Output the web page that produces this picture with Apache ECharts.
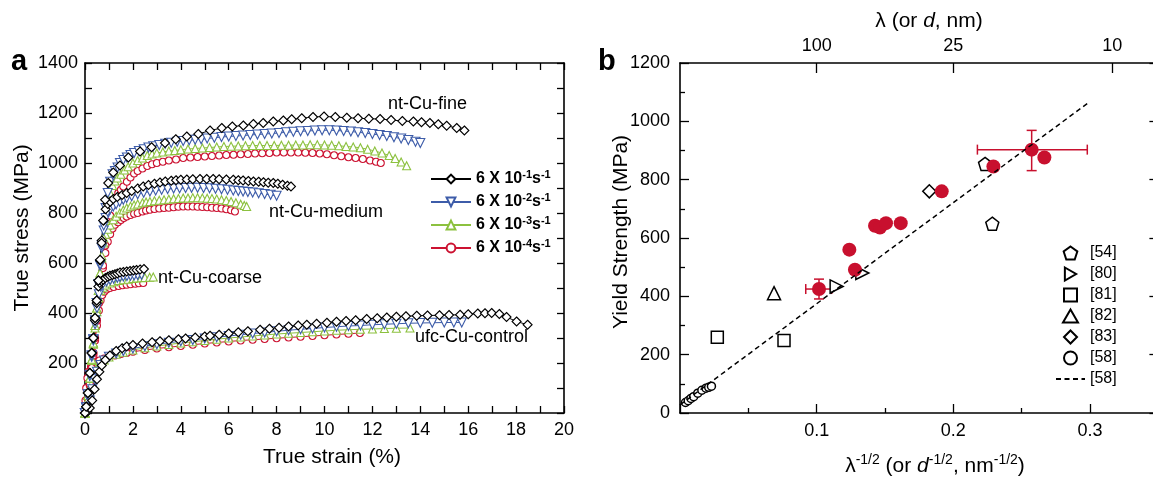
<!DOCTYPE html>
<html>
<head>
<meta charset="utf-8">
<script src="https://cdn.jsdelivr.net/npm/echarts@6/dist/echarts.min.js"></script>
<style>
  html, body { margin: 0; padding: 0; background: #fff; }
  #chart { width: 1153px; height: 481px; }
</style>
</head>
<body>
<div id="chart"></div>
<script>
// ---------- Panel a: true stress (MPa) vs true strain (%) ----------
const rateNames = ['6 X 10-1s-1', '6 X 10-2s-1', '6 X 10-3s-1', '6 X 10-4s-1'];

// nt-Cu-fine
const fine1 = [[0,0],[0.05,25],[0.12,80],[0.2,160],[0.28,240],[0.35,300],[0.42,380],[0.49,450],[0.56,530],[0.63,613],[0.69,680],[0.76,770],[0.84,853],[0.97,920],[1.18,962],[1.46,990],[1.81,1022],[2.3,1046],[2.78,1063],[3.34,1080],[3.79,1095],[4.25,1106],[4.73,1116],[5.22,1130],[5.71,1140],[6.15,1146],[6.61,1150],[7.03,1156],[7.44,1160],[7.86,1166],[8.28,1170],[8.63,1175],[9.05,1179],[9.52,1184],[9.98,1186],[10.45,1184],[10.93,1181],[11.4,1179],[11.85,1177],[12.32,1176],[12.78,1172],[13.25,1168],[13.71,1166],[14.05,1163],[14.4,1160],[14.75,1155],[15.1,1149],[15.52,1140],[15.84,1130]];
const fine2 = [[0,0],[0.05,22],[0.12,75],[0.2,150],[0.28,230],[0.35,295],[0.42,370],[0.49,440],[0.56,515],[0.63,595],[0.7,670],[0.78,750],[0.86,820],[0.95,880],[1.05,925],[1.15,955],[1.25,968],[1.36,982],[1.46,1000],[1.6,1012],[1.75,1022],[1.9,1032],[2.05,1040],[2.25,1048],[2.45,1055],[2.65,1062],[2.85,1067],[3.1,1072],[3.35,1077],[3.6,1081],[3.85,1085],[4.1,1088],[4.35,1091],[4.6,1093],[4.85,1095],[5.1,1098],[5.4,1101],[5.7,1104],[6.0,1106],[6.3,1108],[6.6,1110],[6.9,1112],[7.2,1114],[7.5,1116],[7.8,1118],[8.1,1120],[8.4,1123],[8.7,1125],[9.0,1127],[9.3,1128],[9.6,1130],[9.9,1131],[10.2,1131],[10.5,1130],[10.8,1128],[11.1,1126],[11.4,1123],[11.7,1120],[12.0,1116],[12.3,1112],[12.6,1108],[12.9,1103],[13.2,1098],[13.5,1092],[13.8,1085],[14.0,1080]];
const fine3 = [[0,0],[0.05,20],[0.12,70],[0.2,140],[0.28,215],[0.35,280],[0.42,350],[0.49,420],[0.56,490],[0.63,560],[0.7,630],[0.78,700],[0.86,770],[0.95,830],[1.05,880],[1.15,910],[1.25,928],[1.35,940],[1.5,955],[1.65,972],[1.8,985],[2.0,1000],[2.2,1010],[2.4,1020],[2.6,1030],[2.8,1036],[3.0,1040],[3.25,1044],[3.5,1048],[3.75,1050],[4.0,1053],[4.3,1056],[4.6,1058],[4.9,1060],[5.2,1062],[5.5,1064],[5.8,1066],[6.1,1067],[6.4,1068],[6.7,1069],[7.0,1070],[7.3,1070],[7.6,1070],[7.9,1070],[8.2,1071],[8.5,1071],[8.8,1072],[9.1,1072],[9.4,1073],[9.7,1073],[10.0,1072],[10.3,1071],[10.6,1069],[10.9,1066],[11.2,1064],[11.5,1061],[11.8,1055],[12.1,1048],[12.4,1040],[12.7,1030],[12.95,1018],[13.2,1004],[13.43,989]];
const fine4 = [[0,0],[0.05,15],[0.12,55],[0.2,115],[0.28,180],[0.35,240],[0.42,300],[0.5,370],[0.58,440],[0.66,510],[0.75,590],[0.85,670],[0.95,740],[1.05,790],[1.15,830],[1.27,860],[1.39,880],[1.5,893],[1.6,906],[1.75,925],[1.9,942],[2.05,958],[2.2,968],[2.4,978],[2.6,988],[2.8,995],[3.0,1000],[3.25,1005],[3.5,1010],[3.8,1014],[4.1,1020],[4.4,1022],[4.7,1024],[5.0,1026],[5.3,1028],[5.6,1030],[5.9,1032],[6.2,1033],[6.5,1035],[6.8,1036],[7.1,1038],[7.4,1039],[7.7,1040],[8.0,1042],[8.3,1042],[8.6,1042],[8.9,1042],[9.2,1041],[9.5,1040],[9.8,1038],[10.1,1035],[10.4,1031],[10.7,1027],[11.0,1023],[11.3,1020],[11.6,1016],[11.9,1010],[12.15,1005],[12.35,1000]];

// nt-Cu-medium
const medium1 = [[0,0],[0.05,25],[0.12,80],[0.2,160],[0.28,240],[0.35,300],[0.42,380],[0.49,450],[0.56,530],[0.63,610],[0.7,690],[0.78,770],[0.86,815],[0.95,836],[1.05,845],[1.18,856],[1.35,864],[1.55,872],[1.74,880],[1.95,888],[2.2,898],[2.43,906],[2.65,912],[2.9,917],[3.13,922],[3.35,926],[3.6,929],[3.8,931],[4.0,933],[4.25,934],[4.5,935],[4.8,936],[5.08,936],[5.35,936],[5.6,935],[5.9,934],[6.19,933],[6.4,931],[6.6,930],[6.82,928],[7.03,926],[7.25,925],[7.45,923],[7.65,921],[7.86,920],[8.05,917],[8.25,913],[8.45,909],[8.6,906]];
const medium2 = [[0,0],[0.05,22],[0.12,75],[0.2,150],[0.28,230],[0.35,295],[0.42,370],[0.49,440],[0.56,515],[0.63,590],[0.7,660],[0.78,730],[0.86,780],[0.95,805],[1.05,815],[1.18,826],[1.3,835],[1.45,845],[1.6,853],[1.74,860],[1.95,867],[2.2,875],[2.45,881],[2.71,886],[2.95,890],[3.2,893],[3.45,896],[3.7,898],[3.95,899],[4.2,900],[4.45,901],[4.7,901],[4.95,900],[5.2,899],[5.45,897],[5.7,895],[5.95,893],[6.19,890],[6.4,888],[6.6,886],[6.8,884],[7.0,882],[7.25,879],[7.5,876],[7.75,873],[8.0,869]];
const medium3 = [[0,0],[0.05,20],[0.12,70],[0.2,140],[0.28,215],[0.35,280],[0.42,350],[0.49,420],[0.56,490],[0.63,560],[0.7,620],[0.78,680],[0.86,715],[0.95,735],[1.05,752],[1.18,773],[1.3,787],[1.45,800],[1.6,812],[1.74,820],[1.9,827],[2.05,832],[2.2,836],[2.4,841],[2.55,844],[2.71,846],[2.9,849],[3.1,851],[3.3,853],[3.5,855],[3.7,857],[3.9,858],[4.1,860],[4.3,860],[4.5,861],[4.7,861],[4.9,860],[5.1,859],[5.3,858],[5.5,856],[5.7,853],[5.9,850],[6.1,846],[6.3,841],[6.5,835],[6.65,830],[6.75,826]];
const medium4 = [[0,0],[0.05,15],[0.12,55],[0.2,115],[0.28,180],[0.35,240],[0.42,300],[0.5,370],[0.58,440],[0.66,510],[0.75,580],[0.85,640],[0.95,685],[1.05,715],[1.15,738],[1.25,753],[1.38,763],[1.5,772],[1.62,780],[1.74,786],[1.9,792],[2.05,797],[2.2,800],[2.4,806],[2.55,810],[2.71,813],[2.9,816],[3.1,818],[3.3,820],[3.5,821],[3.7,823],[3.9,825],[4.1,826],[4.3,826],[4.5,826],[4.7,825],[4.9,824],[5.1,823],[5.3,821],[5.5,820],[5.7,818],[5.9,815],[6.1,811],[6.26,806]];

// nt-Cu-coarse
const coarse1 = [[0,0],[0.05,25],[0.12,80],[0.2,160],[0.28,240],[0.35,300],[0.42,370],[0.49,440],[0.56,506],[0.62,520],[0.69,527],[0.76,533],[0.85,540],[0.95,545],[1.04,549],[1.15,552],[1.25,555],[1.35,558],[1.46,562],[1.6,564],[1.74,566],[1.88,568],[2.02,570],[2.15,572],[2.3,574],[2.46,576]];
const coarse2 = [[0,0],[0.05,22],[0.12,75],[0.2,150],[0.28,225],[0.35,290],[0.42,355],[0.5,420],[0.58,475],[0.66,505],[0.75,516],[0.9,526],[1.05,532],[1.2,537],[1.35,541],[1.46,544],[1.6,546],[1.75,548],[1.9,549],[2.05,550],[2.2,552],[2.36,553]];
const coarse3 = [[0,0],[0.05,20],[0.12,70],[0.2,140],[0.28,210],[0.35,275],[0.42,340],[0.5,405],[0.58,460],[0.66,490],[0.75,503],[0.85,512],[1.04,520],[1.2,525],[1.4,530],[1.6,533],[1.8,535],[2.0,538],[2.15,540],[2.35,541],[2.5,542],[2.7,543],[2.85,544]];
const coarse4 = [[0,0],[0.05,15],[0.12,55],[0.2,110],[0.28,170],[0.35,230],[0.42,290],[0.5,350],[0.58,410],[0.65,450],[0.72,472],[0.8,485],[0.9,494],[1.04,500],[1.2,504],[1.4,508],[1.57,511],[1.74,513],[1.9,515],[2.1,517],[2.25,519],[2.43,520]];

// ufc-Cu-control
const ufc1 = [[0,0],[0.1,5],[0.2,20],[0.3,50],[0.4,95],[0.5,135],[0.6,165],[0.7,190],[0.85,212],[1.04,230],[1.3,248],[1.55,259],[1.74,266],[2.0,272],[2.4,278],[2.8,283],[3.13,287],[3.5,291],[3.9,295],[4.2,298],[4.6,302],[5.0,306],[5.22,309],[5.6,313],[6.0,318],[6.4,323],[6.8,327],[7.31,333],[7.7,337],[8.1,341],[8.5,346],[8.9,350],[9.26,353],[9.67,357],[10.1,361],[10.5,365],[10.9,368],[11.3,371],[11.76,376],[12.2,379],[12.6,382],[13.0,385],[13.4,387],[13.85,389],[14.3,390],[14.8,391],[15.2,392],[15.66,393],[16.0,395],[16.4,398],[16.7,399],[16.98,400],[17.3,396],[17.6,384],[18.02,366],[18.48,353]];
const ufc2 = [[0,0],[0.1,15],[0.2,50],[0.3,95],[0.4,135],[0.5,165],[0.65,192],[0.8,210],[1.0,225],[1.3,238],[1.6,248],[2.0,258],[2.5,267],[3.0,275],[3.5,281],[4.0,287],[4.5,292],[5.0,298],[5.5,303],[6.0,308],[6.5,313],[7.0,318],[7.5,322],[8.0,327],[8.5,331],[9.0,335],[9.5,338],[10.0,342],[10.5,345],[11.0,348],[11.5,350],[12.0,353],[12.5,355],[13.0,357],[13.5,359],[14.0,360],[14.5,361],[15.0,362],[15.4,362],[15.73,362]];
const ufc3 = [[0,0],[0.05,20],[0.1,50],[0.2,100],[0.3,140],[0.4,165],[0.5,182],[0.65,200],[0.8,212],[1.0,224],[1.3,235],[1.6,243],[2.0,252],[2.5,261],[3.0,268],[3.5,274],[4.0,280],[4.5,285],[5.0,290],[5.5,295],[6.0,300],[6.5,304],[7.0,308],[7.5,312],[8.0,316],[8.5,319],[9.0,322],[9.5,325],[10.0,328],[10.5,331],[11.0,333],[11.5,335],[12.0,336],[12.5,338],[13.0,339],[13.57,340]];
const ufc4 = [[0,0],[0.02,50],[0.05,100],[0.1,140],[0.15,165],[0.25,185],[0.4,200],[0.6,210],[0.8,218],[1.0,224],[1.25,230],[1.5,236],[1.74,240],[2.0,245],[2.5,252],[3.0,258],[3.5,263],[4.0,268],[4.5,273],[5.0,278],[5.5,282],[6.0,286],[6.5,290],[7.0,293],[7.5,296],[8.0,299],[8.5,302],[9.0,305],[9.5,308],[10.0,311],[10.5,314],[11.0,317],[11.48,320]];

// ---------- Panel b: yield strength vs lambda^-1/2 ----------
const ntCu = [[0.1017,425],[0.1239,560],[0.128,491],[0.1427,642],[0.1463,636],[0.1507,651],[0.1615,651],[0.1915,760],[0.2293,845],[0.2573,903],[0.2666,876]];
// [x, y, xLow, xHigh, yLow, yHigh]
const ntCuErr = [[0.1017,425,0.092,0.111,391,459],[0.2573,903,0.2176,0.298,831,969]];
const ref54 = [[0.2232,854],[0.2285,649]];
const ref80 = [[0.1146,434],[0.1334,480]];
const ref81 = [[0.0273,260],[0.0761,249]];
const ref82 = [[0.0688,411]];
const ref83 = [[0.1824,760]];
const ref58 = [[0.004,36],[0.006,42],[0.008,50],[0.010,56],[0.013,68],[0.016,78],[0.019,85],[0.021,88],[0.023,92]];
const hallPetch58 = [[0,28],[0.3,1068]];
const lambdaTicks = [100, 25, 10];

// ---------- styling ----------
const FONT = '"Liberation Sans", Arial, sans-serif';
const BLUE = '#3d5ca9', GREEN = '#8cc13f', RED = '#cc1231', BRED = '#c8102e';
const downTri = 'path://M0,0L10,0L5,8.66Z';
const upTri = 'path://M5,0L10,8.66L0,8.66Z';
const rightTri = 'path://M0,0L8.66,5L0,10Z';
const square = 'path://M0,0H10V10H0Z';
const diamond = 'path://M5,0L10,5L5,10L0,5Z';
const pentagon = 'path://M5,0L9.755,3.455L7.939,9.045L2.061,9.045L0.245,3.455Z';
const rateStyle = [
  { color: '#000', symbol: 'diamond', size: 9 },
  { color: BLUE, symbol: downTri, size: 9 },
  { color: GREEN, symbol: 'triangle', size: 8 },
  { color: RED, symbol: 'circle', size: 7 }
];

function curveSeries(data, r) {
  const s = rateStyle[r];
  return {
    type: 'line', name: rateNames[r], xAxisIndex: 0, yAxisIndex: 0, data: data,
    symbol: s.symbol, symbolSize: s.size, showAllSymbol: true, clip: false,
    lineStyle: { color: s.color, width: 1 },
    itemStyle: { color: '#fff', borderColor: s.color, borderWidth: 1.1, opacity: 1 },
    emphasis: { disabled: true }, silent: true
  };
}

const groups = [
  [ufc1, ufc2, ufc3, ufc4],
  [coarse1, coarse2, coarse3, coarse4],
  [medium1, medium2, medium3, medium4],
  [fine1, fine2, fine3, fine4]
];
const series = [];
for (let r = 3; r >= 0; r--) {
  groups.forEach(g => series.push(curveSeries(g[r], r)));
}

function refSeries(name, data, symbol, size) {
  return {
    type: 'scatter', name: name, xAxisIndex: 2, yAxisIndex: 2, data: data,
    symbol: symbol, symbolSize: size, clip: false,
    itemStyle: { color: '#fff', borderColor: '#000', borderWidth: 1.5, opacity: 1 },
    emphasis: { disabled: true }, silent: true
  };
}

series.push({
  type: 'line', name: '[58] ', xAxisIndex: 2, yAxisIndex: 2, data: hallPetch58,
  showSymbol: false, symbol: 'circle',
  lineStyle: { color: '#000', width: 1.5, type: [5, 3.5] },
  emphasis: { disabled: true }, silent: true
});
series.push(refSeries('[54]', ref54, pentagon, 13));
series.push(refSeries('[80]', ref80, rightTri, 13));
series.push(refSeries('[81]', ref81, square, 12));
series.push(refSeries('[82]', ref82, upTri, 13));
series.push(refSeries('[83]', ref83, diamond, 13));
series.push(refSeries('[58]', ref58, 'circle', 8));
series.push({
  type: 'custom', name: 'nt-Cu error', xAxisIndex: 2, yAxisIndex: 2, data: ntCuErr,
  encode: { x: 0, y: 1 }, silent: true, clip: false,
  renderItem: function (params, api) {
    const x = api.value(0), y = api.value(1);
    const l = api.coord([api.value(2), y]), rr = api.coord([api.value(3), y]);
    const b = api.coord([x, api.value(4)]), t = api.coord([x, api.value(5)]);
    const c = 5, st = { stroke: BRED, lineWidth: 1.5 };
    const seg = (x1, y1, x2, y2) => ({ type: 'line', shape: { x1, y1, x2, y2 }, style: st });
    return { type: 'group', children: [
      seg(l[0], l[1], rr[0], rr[1]), seg(l[0], l[1] - c, l[0], l[1] + c), seg(rr[0], rr[1] - c, rr[0], rr[1] + c),
      seg(b[0], b[1], t[0], t[1]), seg(b[0] - c, b[1], b[0] + c, b[1]), seg(t[0] - c, t[1], t[0] + c, t[1])
    ] };
  }
});
series.push({
  type: 'scatter', name: 'nt-Cu', xAxisIndex: 2, yAxisIndex: 2, data: ntCu,
  symbol: 'circle', symbolSize: 14, itemStyle: { color: BRED, opacity: 1 }, clip: false,
  emphasis: { disabled: true }, silent: true
});

// ---------- axes ----------
const axisLine = { show: true, onZero: false, lineStyle: { color: '#000', width: 1.6 } };
const lbl = { color: '#000', fontSize: 18, fontFamily: FONT };
const plain = v => String(v);
function tick(len) { return { show: true, inside: true, length: len, lineStyle: { color: '#000', width: 1.3 } }; }
function minor(len) { return { show: true, splitNumber: 2, length: len, lineStyle: { color: '#000', width: 1.3 } }; }

const xAxis = [
  { gridIndex: 0, type: 'value', position: 'bottom', min: 0, max: 20, interval: 2,
    axisLine, axisTick: tick(7), minorTick: minor(7),
    axisLabel: Object.assign({ margin: 8, formatter: plain }, lbl), splitLine: { show: false } },
  { gridIndex: 0, type: 'value', position: 'top', min: 0, max: 20, interval: 2,
    axisLine, axisTick: tick(7), minorTick: minor(7),
    axisLabel: { show: false }, splitLine: { show: false } },
  { gridIndex: 1, type: 'value', position: 'bottom', min: 0, max: 0.4, interval: 0.1,
    axisLine, axisTick: tick(9), minorTick: minor(5),
    axisLabel: Object.assign({ margin: 9, formatter: v => (v > 0.05 && v < 0.35) ? v.toFixed(1) : '' }, lbl),
    splitLine: { show: false } },
  { gridIndex: 1, type: 'value', position: 'top', min: 0, max: 0.4,
    axisLine,
    axisTick: Object.assign(tick(10), { customValues: lambdaTicks.map(l => 1 / Math.sqrt(l)) }),
    axisLabel: Object.assign({ margin: 8, customValues: lambdaTicks.map(l => 1 / Math.sqrt(l)),
      formatter: v => String(Math.round(1 / (v * v))) }, lbl),
    splitLine: { show: false } }
];
const yAxis = [
  { gridIndex: 0, type: 'value', position: 'left', min: 0, max: 1400, interval: 200,
    axisLine, axisTick: tick(7), minorTick: minor(7),
    axisLabel: Object.assign({ margin: 7, showMinLabel: false, formatter: plain }, lbl), splitLine: { show: false } },
  { gridIndex: 0, type: 'value', position: 'right', min: 0, max: 1400, interval: 200,
    axisLine, axisTick: tick(7), minorTick: minor(7),
    axisLabel: { show: false }, splitLine: { show: false } },
  { gridIndex: 1, type: 'value', position: 'left', min: 0, max: 1200, interval: 200,
    axisLine, axisTick: tick(9), minorTick: minor(5),
    axisLabel: Object.assign({ margin: 10, formatter: plain }, lbl), splitLine: { show: false } },
  { gridIndex: 1, type: 'value', position: 'right', offset: -68.3, min: 0, max: 1200, interval: 200,
    axisLine, axisTick: tick(9), minorTick: minor(5),
    axisLabel: { show: false }, splitLine: { show: false } }
];

// ---------- text ----------
const supRich = {
  t: { fontSize: 21, fontFamily: FONT, color: '#000', lineHeight: 26 },
  i: { fontSize: 21, fontFamily: FONT, fontStyle: 'italic', color: '#000', lineHeight: 26 },
  s: { fontSize: 14, fontFamily: FONT, color: '#000', lineHeight: 14, verticalAlign: 'top' }
};
function txt(x, y, text, size, align, extra) {
  return Object.assign({ type: 'text', x: x, y: y, silent: true,
    style: { text: text, fontSize: size, fontFamily: FONT, fill: '#000', align: align, verticalAlign: 'middle' } }, extra || {});
}
const graphic = [
  { type: 'text', x: 11, y: 62, silent: true, style: { text: 'a', fontSize: 29, fontWeight: 'bold', fontFamily: FONT, fill: '#000', align: 'left', verticalAlign: 'middle' } },
  { type: 'text', x: 598, y: 62, silent: true, style: { text: 'b', fontSize: 29, fontWeight: 'bold', fontFamily: FONT, fill: '#000', align: 'left', verticalAlign: 'middle' } },
  txt(22, 228, 'True stress (MPa)', 21, 'center', { rotation: Math.PI / 2 }),
  txt(332, 457, 'True strain (%)', 21, 'center'),
  txt(621, 232, 'Yield Strength (MPa)', 21, 'center', { rotation: Math.PI / 2 }),
  { type: 'text', x: 929, y: 21, silent: true, style: { text: '{t|λ (or }{i|d}{t|, nm)}', rich: supRich, align: 'center', verticalAlign: 'middle' } },
  { type: 'text', x: 935, y: 466, silent: true, style: { text: '{t|λ}{s|-1/2}{t| (or }{i|d}{s|-1/2}{t|, nm}{s|-1/2}{t|)}', rich: supRich, align: 'center', verticalAlign: 'middle' } },
  txt(388, 104, 'nt-Cu-fine', 18, 'left'),
  txt(383, 212, 'nt-Cu-medium', 18, 'right'),
  txt(158, 278, 'nt-Cu-coarse', 18, 'left'),
  txt(415, 337, 'ufc-Cu-control', 18, 'left')
];

const option = {
  backgroundColor: '#fff',
  animation: false,
  grid: [
    { left: 85, top: 63, width: 479, height: 350, outerBoundsMode: 'none' },
    { left: 680, top: 63, width: 546.7, height: 350, outerBoundsMode: 'none' }
  ],
  xAxis: xAxis,
  yAxis: yAxis,
  legend: [
    { orient: 'vertical', left: 425, top: 164, padding: 5, itemWidth: 40, itemHeight: 11, itemGap: 5, itemTextGap: 3,
      selectedMode: false, data: rateNames, lineStyle: { width: 2 },
      formatter: name => {
        const e = name.match(/10(-\d)s/)[1];
        return '{b|6 X 10}{s|' + e + '}{b|s}{s|-1}';
      },
      textStyle: { rich: {
        b: { fontSize: 16, fontWeight: 'bold', fontFamily: FONT, color: '#000', lineHeight: 20 },
        s: { fontSize: 11, fontWeight: 'bold', fontFamily: FONT, color: '#000', lineHeight: 11, verticalAlign: 'top' }
      } } },
    { orient: 'vertical', left: 1050, top: 239, padding: 5, itemWidth: 29, itemHeight: 13, itemGap: 3, itemTextGap: 6,
      selectedMode: false,
      data: ['[54]', '[80]', '[81]', '[82]', '[83]', '[58]', { name: '[58] ', itemStyle: { opacity: 0 } }],
      textStyle: { fontSize: 16, fontFamily: FONT, color: '#000', lineHeight: 18 } }
  ],
  graphic: graphic,
  series: series
};

const chart = echarts.init(document.getElementById('chart'), null, { renderer: 'canvas' });
chart.setOption(option);
</script>
</body>
</html>
